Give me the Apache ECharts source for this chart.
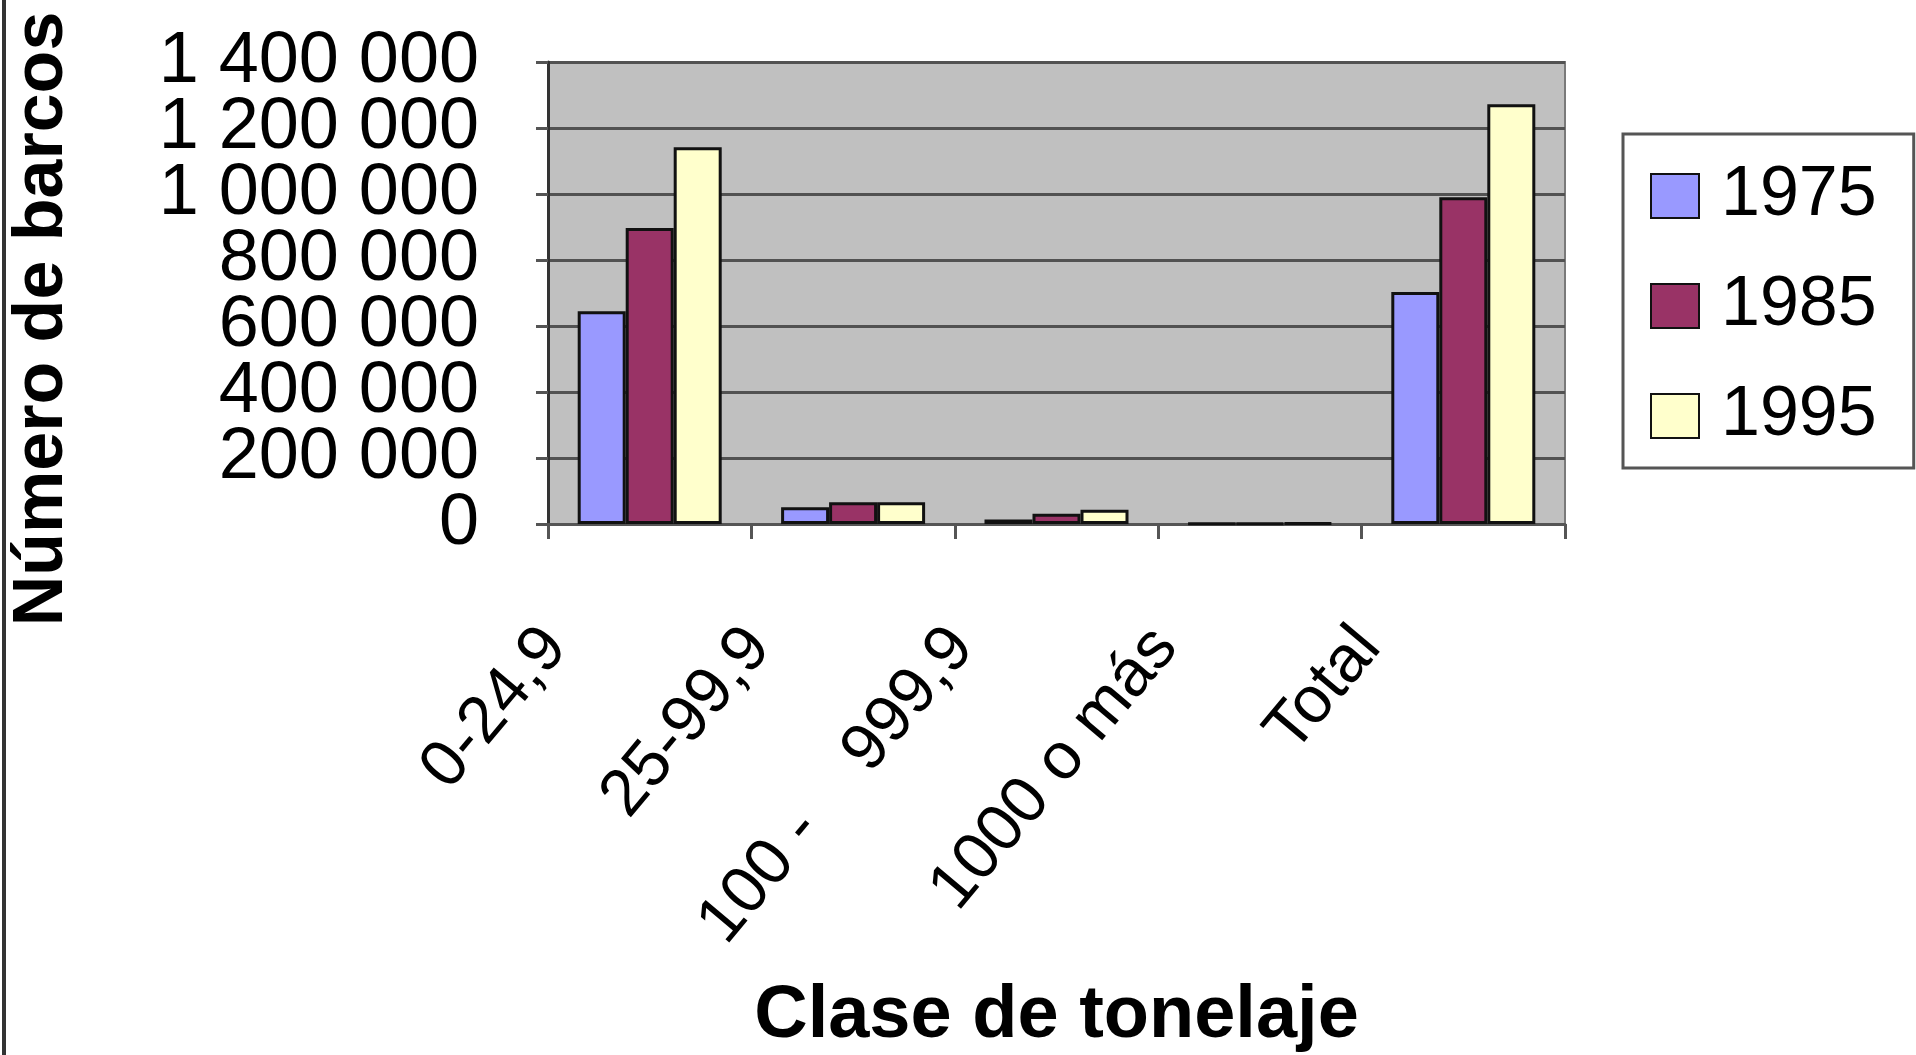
<!DOCTYPE html>
<html>
<head>
<meta charset="utf-8">
<title>Número de barcos por clase de tonelaje</title>
<script src="https://cdn.jsdelivr.net/npm/echarts@6/dist/echarts.min.js"></script>
<style>
  html, body { margin: 0; padding: 0; background: #fff; }
  #m1 { width: 1916px; height: 1055px; }
</style>
</head>
<body>
<div id="m1"></div>
<script>
// datos
var categorias = ['0-24,9', '25-99,9', '100 -    999,9', '1000 o más', 'Total'];
var anios = ['1975', '1985', '1995'];
var v1975 = [645000, 51000, 14000, 1000, 703000];
var v1985 = [897000, 66000, 31000, 2000, 990000];
var v1995 = [1142000, 66000, 43000, 3000, 1272000];
var etiquetasY = ['0', '200 000', '400 000', '600 000', '800 000', '1 000 000', '1 200 000', '1 400 000'];
var colores = ['#9999FF', '#993366', '#FFFFCC'];
var fuente = "'Liberation Sans', Arial, sans-serif";

function serie(nombre, datos, color) {
    return {
        name: nombre,
        type: 'bar',
        barWidth: 48,
        barGap: '0%',
        yAxisIndex: 0,
        itemStyle: {
            color: color,
            borderColor: '#111',
            borderWidth: 3
        },
        data: datos
    };
}

var myChart = echarts.init(document.getElementById('m1'));
var option = {
    animation: false,
    backgroundColor: '#fff',
    textStyle: { fontFamily: fuente },
    graphic: [
        {   // marco izquierdo
            type: 'rect',
            left: 2, top: 0,
            shape: { width: 4, height: 1055 },
            style: { fill: '#333' }
        }
    ],
    legend: {
        orient: 'vertical',
        left: 1623,
        top: 134,
        data: anios,
        icon: 'rect',
        itemWidth: 48,
        itemHeight: 44,
        itemGap: 40,
        padding: [27, 37, 17, 27],
        backgroundColor: '#fff',
        borderColor: '#555',
        borderWidth: 3,
        textStyle: {
            fontSize: 70,
            color: '#000',
            fontFamily: fuente,
            padding: [0, 0, 0, 17]
        }
    },
    grid: {
        left: 548,
        right: 351,
        top: 62,
        bottom: 530,
        show: true,
        backgroundColor: '#C0C0C0',
        borderColor: '#7a7a7a',
        borderWidth: 2
    },
    xAxis: {
        type: 'category',
        data: categorias,
        boundaryGap: true,
        name: 'Clase de tonelaje',
        nameLocation: 'middle',
        nameGap: 456,
        nameTextStyle: {
            fontSize: 74,
            fontWeight: 'bold',
            color: '#000',
            fontFamily: fuente
        },
        axisLine: { lineStyle: { color: '#555', width: 3 } },
        axisTick: { show: true, length: 15, lineStyle: { color: '#555', width: 3 } },
        axisLabel: {
            interval: 0,
            rotate: 50,
            margin: 0,
            padding: [0, 147, 0, 0],
            fontSize: 66,
            color: '#000',
            fontFamily: fuente
        }
    },
    yAxis: [
        {
            type: 'value',
            min: 0,
            max: 1400000,
            interval: 200000,
            name: 'Número de barcos',
            nameLocation: 'middle',
            nameRotate: 90,
            nameGap: 470,
            nameTextStyle: {
                fontSize: 70,
                fontWeight: 'bold',
                color: '#000',
                fontFamily: fuente,
                padding: [0, 52, 0, 0]
            },
            axisLine: { show: true, lineStyle: { color: '#333', width: 3 } },
            axisTick: { show: true, length: 12, lineStyle: { color: '#555', width: 3 } },
            splitLine: { lineStyle: { color: '#525252', width: 3 } },
            axisLabel: { show: false }
        },
        {
            // eje de etiquetas: las mismas marcas del eje de valores
            type: 'category',
            data: etiquetasY,
            position: 'left',
            boundaryGap: false,
            axisLine: { show: false },
            axisTick: { show: false },
            splitLine: { show: false },
            axisLabel: {
                interval: 0,
                margin: 69,
                fontSize: 72,
                color: '#000',
                fontFamily: fuente
            }
        }
    ],
    series: [
        serie(anios[0], v1975, colores[0]),
        serie(anios[1], v1985, colores[1]),
        serie(anios[2], v1995, colores[2])
    ]
};
myChart.setOption(option);
</script>
</body>
</html>
